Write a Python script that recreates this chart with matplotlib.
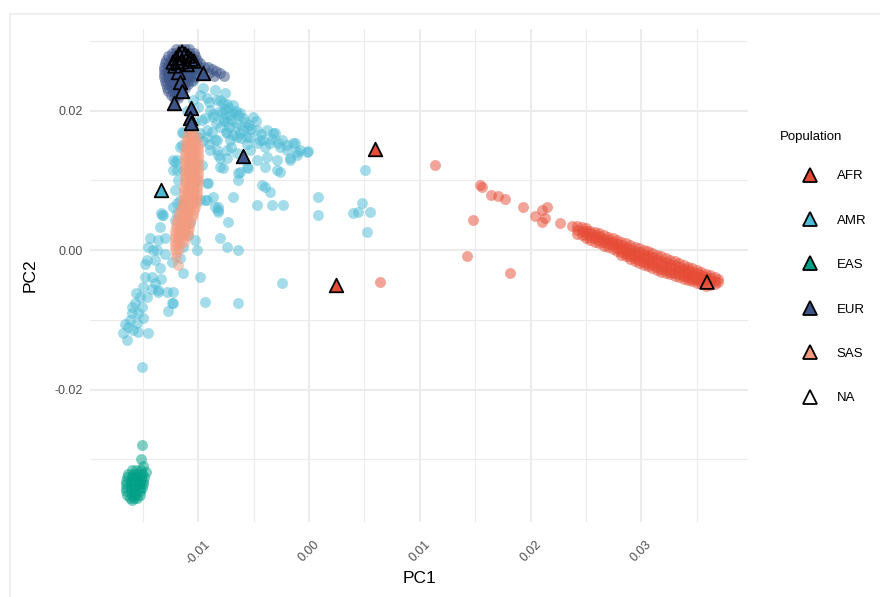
import matplotlib
matplotlib.use("Agg")
import matplotlib.pyplot as plt
from matplotlib.lines import Line2D
import numpy as np

plt.rcParams['font.family'] = ['Liberation Sans', 'DejaVu Sans']

# population colours
populations = ["AFR", "AMR", "EAS", "EUR", "SAS", "NA"]
pop_colors = {"AFR": "#E64B35", "AMR": "#4DBBD5", "EAS": "#00A087",
              "EUR": "#3C5488", "SAS": "#F39B7F", "NA": "white"}

# reference panel samples (PC1, PC2)
amr = [
    (-0.01047, 0.02437), (-0.00957, 0.02323), (-0.00848, 0.02294), (-0.00758, 0.02251),
    (-0.00921, 0.02179), (-0.00830, 0.02151), (-0.00984, 0.02222), (-0.00686, 0.02079),
    (-0.00776, 0.02108), (-0.00894, 0.02007), (-0.00866, 0.01907), (-0.00785, 0.01964),
    (-0.00713, 0.01935), (-0.00623, 0.01964), (-0.00505, 0.01907), (-0.00740, 0.01835),
    (-0.00650, 0.01821), (-0.00560, 0.01763), (-0.00803, 0.01763), (-0.00469, 0.01720),
    (-0.00379, 0.01720), (-0.00325, 0.01677), (-0.00244, 0.01577), (-0.00144, 0.01534),
    (-0.00081, 0.01434), (-0.00009, 0.01419), (-0.00108, 0.01362), (-0.00171, 0.01319),
    (-0.00262, 0.01477), (-0.00352, 0.01534), (-0.00415, 0.01577), (-0.00469, 0.01534),
    (-0.00560, 0.01620), (-0.00650, 0.01620), (-0.00713, 0.01577), (-0.00830, 0.01577),
    (-0.00921, 0.01620), (-0.00984, 0.01677), (-0.01074, 0.01677), (-0.01146, 0.01692),
    (-0.01146, 0.01505), (-0.01191, 0.01290), (-0.01137, 0.01147), (-0.00894, 0.01434),
    (-0.00821, 0.01362), (-0.00740, 0.01319), (-0.00803, 0.01190), (-0.00623, 0.01118),
    (-0.00560, 0.01190), (-0.00641, 0.01004), (-0.00397, 0.01190), (-0.00289, 0.01147),
    (-0.00397, 0.00903), (-0.00352, 0.00832), (-0.00424, 0.00932), (-0.00921, 0.00961),
    (-0.00686, 0.00760), (-0.00848, 0.00617), (-0.00821, 0.00545), (-0.00921, 0.00717),
    (-0.00469, 0.00645), (-0.00334, 0.00645), (-0.00235, 0.00645), (0.00081, 0.00760),
    (0.00081, 0.00502), (-0.00731, 0.00401), (-0.00803, 0.00172), (-0.00740, 0.00043),
    (-0.00641, 0.00000), (0.00505, 0.01147), (0.00442, 0.00545), (0.00523, 0.00258),
    (0.00551, 0.00545), (0.00397, 0.00530), (0.00478, 0.00674), (-0.01336, 0.00530),
    (-0.01209, 0.00430), (-0.01137, 0.00645), (-0.01191, 0.00674), (-0.01227, 0.01147),
    (-0.01227, 0.01290), (-0.01164, 0.01477), (-0.00921, 0.01720), (-0.01029, 0.01835),
    (-0.00966, 0.01864), (-0.00126, 0.01534), (-0.00018, 0.01405), (-0.00171, 0.01290),
    (-0.00262, 0.01118), (-0.00244, -0.00473), (-0.00984, -0.00387), (-0.00939, -0.00746),
    (-0.00641, -0.00760), (-0.01137, -0.00330), (-0.01227, -0.00602), (-0.01227, -0.00760),
    (-0.01273, -0.00875), (-0.01363, -0.00602), (-0.01453, -0.01190), (-0.01507, -0.01677),
    (-0.01327, 0.00502), (-0.01345, 0.00330), (-0.01435, 0.00172), (-0.01453, 0.00043),
    (-0.01408, 0.00000), (-0.01363, 0.00143), (-0.01300, 0.00172), (-0.01462, -0.00143),
    (-0.01390, -0.00143), (-0.01345, -0.00258), (-0.01480, -0.00387), (-0.01417, -0.00387),
    (-0.01390, -0.00473), (-0.01498, -0.00530), (-0.01525, -0.00674), (-0.01462, -0.00674),
    (-0.01570, -0.00760), (-0.01507, -0.00817), (-0.01597, -0.00903), (-0.01543, -0.00903),
    (-0.01616, -0.01004), (-0.01552, -0.01047), (-0.01634, -0.01104), (-0.01588, -0.01147),
    (-0.01679, -0.01190), (-0.01643, -0.01290), (-0.01543, -0.01176), (-0.01282, -0.00602),
    (-0.01236, -0.00760), (-0.01363, -0.00573), (-0.01164, -0.00115), (-0.01236, -0.00172),
    (-0.01011, 0.00000), (-0.01164, 0.00330), (-0.01191, 0.00530), (-0.01092, 0.00215),
    (-0.01137, 0.00043), (-0.01029, 0.00143), (-0.01074, 0.00387), (-0.00984, 0.00717),
    (-0.00866, 0.00760), (-0.00821, 0.00573), (-0.01372, 0.00000), (-0.01209, 0.01262),
    (-0.01191, 0.01147), (-0.01182, 0.01004), (-0.01209, 0.00860), (-0.01164, 0.00717),
    (-0.01227, 0.00617), (-0.01318, 0.00502), (-0.01056, 0.01147), (-0.01011, 0.01004),
    (-0.00966, 0.01219), (-0.00912, 0.00961), (-0.00939, 0.00717), (-0.00821, 0.00617),
    (-0.00776, 0.01176), (-0.00803, 0.01319), (-0.00641, 0.01104), (-0.00551, 0.01176),
    (-0.00289, 0.01290), (-0.00379, 0.01333), (-0.00469, 0.01290), (-0.00199, 0.01434),
    (-0.00108, 0.01405), (-0.01137, 0.01677), (-0.01002, 0.01620), (-0.00848, 0.01577),
    (-0.00740, 0.01677), (-0.00532, 0.01620), (-0.00442, 0.01577), (-0.00307, 0.01677),
    (-0.00830, 0.01434), (-0.00740, 0.01434), (-0.00650, 0.01391), (-0.00532, 0.01434),
    (-0.00870, 0.01950), (-0.00800, 0.02000), (-0.00720, 0.02030), (-0.00660, 0.01990),
    (-0.00600, 0.01900), (-0.00700, 0.01880), (-0.00770, 0.01850), (-0.00840, 0.01820),
    (-0.00660, 0.01760), (-0.00600, 0.01720), (-0.00540, 0.01800), (-0.00480, 0.01850),
    (-0.00750, 0.01700), (-0.00690, 0.01650), (-0.00620, 0.01680), (-0.00800, 0.02150),
    (-0.00740, 0.02100), (-0.00900, 0.02120), (-0.01050, 0.02150), (-0.01000, 0.02050),
    (-0.01100, 0.02000), (-0.00760, 0.02020), (-0.00690, 0.01960), (-0.00640, 0.01930),
    (-0.00580, 0.01840), (-0.00520, 0.01730), (-0.00430, 0.01660), (-0.00400, 0.01480),
    (-0.00330, 0.01590), (-0.00280, 0.01530), (-0.00200, 0.01500), (-0.00780, 0.01900),
    (-0.00720, 0.01760), (-0.00610, 0.01600), (-0.00560, 0.01520), (-0.00940, 0.01900),
    (-0.00880, 0.01700), (-0.00960, 0.01560), (-0.00900, 0.01520), (-0.00700, 0.01480),
    (-0.01480, -0.00200), (-0.01420, -0.00560), (-0.01560, -0.00620), (-0.01600, -0.00820),
    (-0.01660, -0.01060), (-0.01500, -0.00980), (-0.01340, -0.00420), (-0.01300, -0.00060),
]

sas = [
    (-0.0107, 0.0172), (-0.0109, 0.0167), (-0.0105, 0.0167),
    (-0.0110, 0.0162), (-0.0106, 0.0162), (-0.0102, 0.0162),
    (-0.0111, 0.0157), (-0.0107, 0.0157), (-0.0103, 0.0157),
    (-0.0111, 0.0152), (-0.0107, 0.0152), (-0.0103, 0.0152), (-0.0100, 0.0152),
    (-0.0111, 0.0147), (-0.0107, 0.0147), (-0.0103, 0.0147), (-0.0100, 0.0147),
    (-0.0112, 0.0142), (-0.0108, 0.0142), (-0.0104, 0.0142), (-0.0100, 0.0142),
    (-0.0112, 0.0137), (-0.0108, 0.0137), (-0.0104, 0.0137), (-0.0100, 0.0137),
    (-0.0112, 0.0132), (-0.0108, 0.0132), (-0.0104, 0.0132), (-0.0100, 0.0132),
    (-0.0112, 0.0127), (-0.0108, 0.0127), (-0.0104, 0.0127), (-0.0100, 0.0127),
    (-0.0112, 0.0122), (-0.0108, 0.0122), (-0.0104, 0.0122), (-0.0100, 0.0122),
    (-0.0112, 0.0117), (-0.0108, 0.0117), (-0.0104, 0.0117), (-0.0100, 0.0117),
    (-0.0112, 0.0112), (-0.0108, 0.0112), (-0.0104, 0.0112), (-0.0100, 0.0112),
    (-0.0112, 0.0107), (-0.0108, 0.0107), (-0.0104, 0.0107), (-0.0100, 0.0107),
    (-0.0112, 0.0102), (-0.0108, 0.0102), (-0.0104, 0.0102), (-0.0100, 0.0102),
    (-0.0112, 0.0097), (-0.0108, 0.0097), (-0.0104, 0.0097), (-0.0100, 0.0097),
    (-0.0113, 0.0092), (-0.0109, 0.0092), (-0.0105, 0.0092), (-0.0101, 0.0092),
    (-0.0113, 0.0087), (-0.0109, 0.0087), (-0.0105, 0.0087), (-0.0101, 0.0087),
    (-0.0113, 0.0082), (-0.0109, 0.0082), (-0.0105, 0.0082), (-0.0101, 0.0082),
    (-0.0113, 0.0077), (-0.0109, 0.0077), (-0.0105, 0.0077), (-0.0101, 0.0077),
    (-0.0114, 0.0072), (-0.0110, 0.0072), (-0.0106, 0.0072), (-0.0102, 0.0072),
    (-0.0114, 0.0067), (-0.0110, 0.0067), (-0.0106, 0.0067), (-0.0102, 0.0067),
    (-0.0115, 0.0062), (-0.0111, 0.0062), (-0.0107, 0.0062), (-0.0103, 0.0062),
    (-0.0116, 0.0057), (-0.0112, 0.0057), (-0.0108, 0.0057), (-0.0104, 0.0057),
    (-0.0117, 0.0052), (-0.0113, 0.0052), (-0.0109, 0.0052), (-0.0105, 0.0052),
    (-0.0118, 0.0047), (-0.0114, 0.0047), (-0.0110, 0.0047), (-0.0106, 0.0047),
    (-0.0119, 0.0042), (-0.0115, 0.0042), (-0.0111, 0.0042), (-0.0107, 0.0042),
    (-0.0120, 0.0037), (-0.0116, 0.0037), (-0.0112, 0.0037), (-0.0108, 0.0037),
    (-0.0120, 0.0032), (-0.0116, 0.0032), (-0.0112, 0.0032), (-0.0108, 0.0032),
    (-0.0121, 0.0027), (-0.0117, 0.0027), (-0.0113, 0.0027), (-0.0109, 0.0027),
    (-0.0121, 0.0022), (-0.0117, 0.0022), (-0.0113, 0.0022), (-0.0109, 0.0022),
    (-0.0121, 0.0017), (-0.0117, 0.0017), (-0.0113, 0.0017),
    (-0.0121, 0.0012), (-0.0117, 0.0012), (-0.0113, 0.0012),
    (-0.0121, 0.0007), (-0.0117, 0.0007),
    (-0.0121, 0.0002), (-0.0117, 0.0002),
    (-0.0120, -0.0004), (-0.0120, -0.0010), (-0.0118, -0.0022),
]

eur = [
    (-0.0120, 0.0288), (-0.0116, 0.0288), (-0.0112, 0.0288), (-0.0108, 0.0288),
    (-0.0124, 0.0283), (-0.0120, 0.0283), (-0.0116, 0.0283), (-0.0112, 0.0283),
    (-0.0108, 0.0283), (-0.0104, 0.0283),
    (-0.0127, 0.0278), (-0.0123, 0.0278), (-0.0119, 0.0278), (-0.0115, 0.0278),
    (-0.0111, 0.0278), (-0.0107, 0.0278), (-0.0103, 0.0278),
    (-0.0129, 0.0273), (-0.0125, 0.0273), (-0.0121, 0.0273), (-0.0117, 0.0273),
    (-0.0113, 0.0273), (-0.0109, 0.0273), (-0.0105, 0.0273), (-0.0101, 0.0273),
    (-0.0130, 0.0268), (-0.0126, 0.0268), (-0.0122, 0.0268), (-0.0118, 0.0268),
    (-0.0114, 0.0268), (-0.0110, 0.0268), (-0.0106, 0.0268), (-0.0102, 0.0268),
    (-0.0098, 0.0268),
    (-0.0131, 0.0263), (-0.0127, 0.0263), (-0.0123, 0.0263), (-0.0119, 0.0263),
    (-0.0115, 0.0263), (-0.0111, 0.0263), (-0.0107, 0.0263), (-0.0103, 0.0263),
    (-0.0099, 0.0263), (-0.0095, 0.0263),
    (-0.0131, 0.0258), (-0.0127, 0.0258), (-0.0123, 0.0258), (-0.0119, 0.0258),
    (-0.0115, 0.0258), (-0.0111, 0.0258), (-0.0107, 0.0258), (-0.0103, 0.0258),
    (-0.0099, 0.0258),
    (-0.0131, 0.0253), (-0.0127, 0.0253), (-0.0123, 0.0253), (-0.0119, 0.0253),
    (-0.0115, 0.0253), (-0.0111, 0.0253), (-0.0107, 0.0253), (-0.0103, 0.0253),
    (-0.0131, 0.0248), (-0.0127, 0.0248), (-0.0123, 0.0248), (-0.0119, 0.0248),
    (-0.0115, 0.0248), (-0.0111, 0.0248), (-0.0107, 0.0248), (-0.0103, 0.0248),
    (-0.0130, 0.0243), (-0.0126, 0.0243), (-0.0122, 0.0243), (-0.0118, 0.0243),
    (-0.0114, 0.0243), (-0.0110, 0.0243), (-0.0106, 0.0243),
    (-0.0129, 0.0238), (-0.0125, 0.0238), (-0.0121, 0.0238), (-0.0117, 0.0238),
    (-0.0113, 0.0238), (-0.0109, 0.0238),
    (-0.0128, 0.0233), (-0.0124, 0.0233), (-0.0120, 0.0233), (-0.0116, 0.0233),
    (-0.0112, 0.0233),
    (-0.0127, 0.0228), (-0.0123, 0.0228), (-0.0119, 0.0228), (-0.0115, 0.0228),
    (-0.0125, 0.0223), (-0.0121, 0.0223), (-0.0117, 0.0223),
    (-0.0122, 0.0218), (-0.0118, 0.0218),
    (-0.0091, 0.0262), (-0.0088, 0.0259), (-0.0084, 0.0257), (-0.0080, 0.0254),
    (-0.0077, 0.0249), (-0.0090, 0.0254), (-0.0086, 0.0250),
]

eas = [
    (-0.01507, -0.02796), (-0.01516, -0.02996), (-0.01471, -0.03183), (-0.01500, -0.03100),
    (-0.0160, -0.0316), (-0.0156, -0.0316), (-0.0152, -0.0316),
    (-0.0163, -0.0321), (-0.0159, -0.0321), (-0.0155, -0.0321), (-0.0151, -0.0321),
    (-0.0164, -0.0326), (-0.0160, -0.0326), (-0.0156, -0.0326), (-0.0152, -0.0326),
    (-0.0149, -0.0326),
    (-0.0165, -0.0331), (-0.0161, -0.0331), (-0.0157, -0.0331), (-0.0153, -0.0331),
    (-0.0150, -0.0331),
    (-0.0165, -0.0336), (-0.0161, -0.0336), (-0.0157, -0.0336), (-0.0153, -0.0336),
    (-0.0150, -0.0336),
    (-0.0165, -0.0341), (-0.0161, -0.0341), (-0.0157, -0.0341), (-0.0153, -0.0341),
    (-0.0151, -0.0341),
    (-0.0165, -0.0346), (-0.0161, -0.0346), (-0.0157, -0.0346), (-0.0153, -0.0346),
    (-0.0164, -0.0351), (-0.0160, -0.0351), (-0.0156, -0.0351), (-0.0153, -0.0351),
    (-0.0162, -0.0356), (-0.0158, -0.0356), (-0.0155, -0.0356),
    (-0.0160, -0.0359),
]

# African samples: scattered points, then the main cline as (PC1, [PC2 ...]) columns
afr_scatter = [
    (0.01137, 0.01219), (0.01543, 0.00932), (0.01561, 0.00903), (0.01643, 0.00789),
    (0.01706, 0.00774), (0.01769, 0.00731), (0.01931, 0.00616), (0.01480, 0.00430),
    (0.01426, -0.00086), (0.01814, -0.00330), (0.00641, -0.00459), (0.02103, 0.00573),
    (0.02148, 0.00616), (0.02040, 0.00487), (0.02130, 0.00459), (0.02103, 0.00401),
    (0.02265, 0.00387), (0.02374, 0.00344),
]
afr_cline = [
    (0.0242, [0.0023, 0.0029, 0.0035]),
    (0.0246, [0.0021, 0.0027, 0.0033]),
    (0.0250, [0.0017, 0.0022, 0.0027, 0.0031]),
    (0.0254, [0.0014, 0.0019, 0.0024, 0.0028]),
    (0.0258, [0.0012, 0.0017, 0.0022, 0.0026]),
    (0.0262, [0.0010, 0.0015, 0.0020, 0.0024]),
    (0.0266, [0.0006, 0.0011, 0.0016, 0.0021]),
    (0.0270, [0.0004, 0.0009, 0.0014, 0.0019]),
    (0.0274, [0.0002, 0.0007, 0.0012, 0.0017]),
    (0.0278, [-0.0002, 0.0003, 0.0008, 0.0014]),
    (0.0282, [-0.0007, -0.0003, 0.0002, 0.0007, 0.0012]),
    (0.0286, [-0.0009, -0.0005, 0.0000, 0.0005, 0.0010]),
    (0.0290, [-0.0013, -0.0009, -0.0004, 0.0001, 0.0007]),
    (0.0294, [-0.0016, -0.0012, -0.0006, -0.0001, 0.0005]),
    (0.0298, [-0.0018, -0.0014, -0.0008, -0.0003, 0.0003]),
    (0.0302, [-0.0021, -0.0017, -0.0011, -0.0006, 0.0000]),
    (0.0306, [-0.0023, -0.0019, -0.0013, -0.0008, -0.0002]),
    (0.0310, [-0.0026, -0.0022, -0.0016, -0.0010, -0.0004]),
    (0.0314, [-0.0029, -0.0025, -0.0019, -0.0013, -0.0007]),
    (0.0318, [-0.0031, -0.0027, -0.0021, -0.0015, -0.0009]),
    (0.0322, [-0.0033, -0.0029, -0.0023, -0.0017, -0.0011]),
    (0.0326, [-0.0035, -0.0031, -0.0025, -0.0020, -0.0014]),
    (0.0330, [-0.0037, -0.0033, -0.0027, -0.0022, -0.0016]),
    (0.0334, [-0.0039, -0.0035, -0.0029, -0.0024, -0.0018]),
    (0.0338, [-0.0041, -0.0037, -0.0032, -0.0027, -0.0021]),
    (0.0342, [-0.0043, -0.0039, -0.0034, -0.0029, -0.0024]),
    (0.0346, [-0.0045, -0.0041, -0.0036, -0.0031, -0.0026]),
    (0.0350, [-0.0047, -0.0043, -0.0038, -0.0033, -0.0029]),
    (0.0354, [-0.0049, -0.0045, -0.0040, -0.0036, -0.0031]),
    (0.0358, [-0.0051, -0.0048, -0.0043, -0.0038, -0.0034]),
    (0.0362, [-0.0050, -0.0045, -0.0040, -0.0036]),
    (0.0366, [-0.0049, -0.0044, -0.0039]),
    (0.0369, [-0.0046, -0.0041]),
]

# study samples projected on the PCs (triangles)
tri_eur = [
    (-0.01182, 0.02681), (-0.01182, 0.02552), (-0.01164, 0.02409), (-0.01146, 0.02280),
    (-0.01218, 0.02108), (-0.01065, 0.02036), (-0.01074, 0.01892), (-0.01065, 0.01821),
    (-0.00957, 0.02538), (-0.00596, 0.01348),
]
tri_afr = [(0.00596, 0.01448), (0.00244, -0.00502)]
tri_amr = [(-0.01336, 0.00860)]
tri_na = [
    (-0.01227, 0.02695), (-0.01200, 0.02753), (-0.01173, 0.02810), (-0.01146, 0.02839),
    (-0.01119, 0.02810), (-0.01092, 0.02781), (-0.01065, 0.02738), (-0.01038, 0.02710),
    (-0.01210, 0.02640), (-0.01150, 0.02700), (-0.01100, 0.02660),
    (0.03592, -0.00459),
]

x_ticks = [-0.01, 0.00, 0.01, 0.02, 0.03]
x_labels = ["-0.01", "0.00", "0.01", "0.02", "0.03"]
y_ticks = [-0.02, 0.00, 0.02]
y_labels = ["-0.02", "0.00", "0.02"]

afr = list(afr_scatter)
for x, ys in afr_cline:
    afr += [(x, y) for y in ys]

fig = plt.figure(figsize=(8.8, 5.97), dpi=100)
ax = fig.add_axes([90 / 880, 75 / 597, 658 / 880, 493 / 597])

# faint frame around the image
fig.add_artist(Line2D([10 / 880, 10 / 880], [0, 1 - 14 / 597], color="#EEEEEE", lw=1.2))
fig.add_artist(Line2D([10 / 880, 1], [1 - 14 / 597, 1 - 14 / 597], color="#EEEEEE", lw=1.2))

circ = dict(s=62, alpha=0.5, linewidths=0, zorder=2)
for pts, pop in [(amr, "AMR"), (sas, "SAS"), (eur, "EUR"), (eas, "EAS"), (afr, "AFR")]:
    arr = np.array(pts)
    ax.scatter(arr[:, 0], arr[:, 1], color=pop_colors[pop], **circ)

tri = dict(marker="^", s=95, linewidths=1.3, edgecolors="black", zorder=4)
for pts, pop in [(tri_eur, "EUR"), (tri_afr, "AFR"), (tri_amr, "AMR")]:
    arr = np.array(pts)
    ax.scatter(arr[:, 0], arr[:, 1], color=pop_colors[pop], **tri)
arr = np.array(tri_na)
ax.scatter(arr[:, 0], arr[:, 1], facecolors="none", **tri)

ax.set_xlim(-0.01977, 0.03962)
ax.set_ylim(-0.0390, 0.0317)
ax.set_xticks(x_ticks)
ax.set_xticklabels(x_labels, rotation=45, ha="center", va="top")
ax.set_yticks(y_ticks)
ax.set_yticklabels(y_labels)
ax.set_xticks([-0.015, -0.005, 0.005, 0.015, 0.025, 0.035], minor=True)
ax.set_yticks([-0.03, -0.01, 0.01, 0.03], minor=True)
ax.tick_params(axis="both", which="both", length=0, labelsize=9, labelcolor="#4D4D4D")
ax.tick_params(axis="x", pad=12)
ax.tick_params(axis="y", pad=5)
ax.grid(which="major", color="#EBEBEB", lw=1.5)
ax.grid(which="minor", color="#EBEBEB", lw=0.8)
ax.set_axisbelow(True)
for s in ax.spines.values():
    s.set_visible(False)

ax.set_xlabel("PC1", fontsize=12.5, labelpad=3)
ax.set_ylabel("PC2", fontsize=12.5, labelpad=12)

# legend
fig.text(780 / 880, 1 - 137 / 597, "Population", fontsize=9.5, va="center", ha="left")
handles = [Line2D([], [], marker="^", linestyle="", markersize=9.5, markeredgewidth=1.3,
                  markeredgecolor="black", markerfacecolor=pop_colors[p], label=p)
           for p in populations]
fig.legend(handles=handles, loc="upper left", bbox_to_anchor=(797 / 880, 1 - 170 / 597),
           frameon=False, fontsize=9.5, labelspacing=2.44, handlelength=2.0,
           handletextpad=1.0, borderpad=0, borderaxespad=0)

fig.savefig("out.png", dpi=100, facecolor="white")
